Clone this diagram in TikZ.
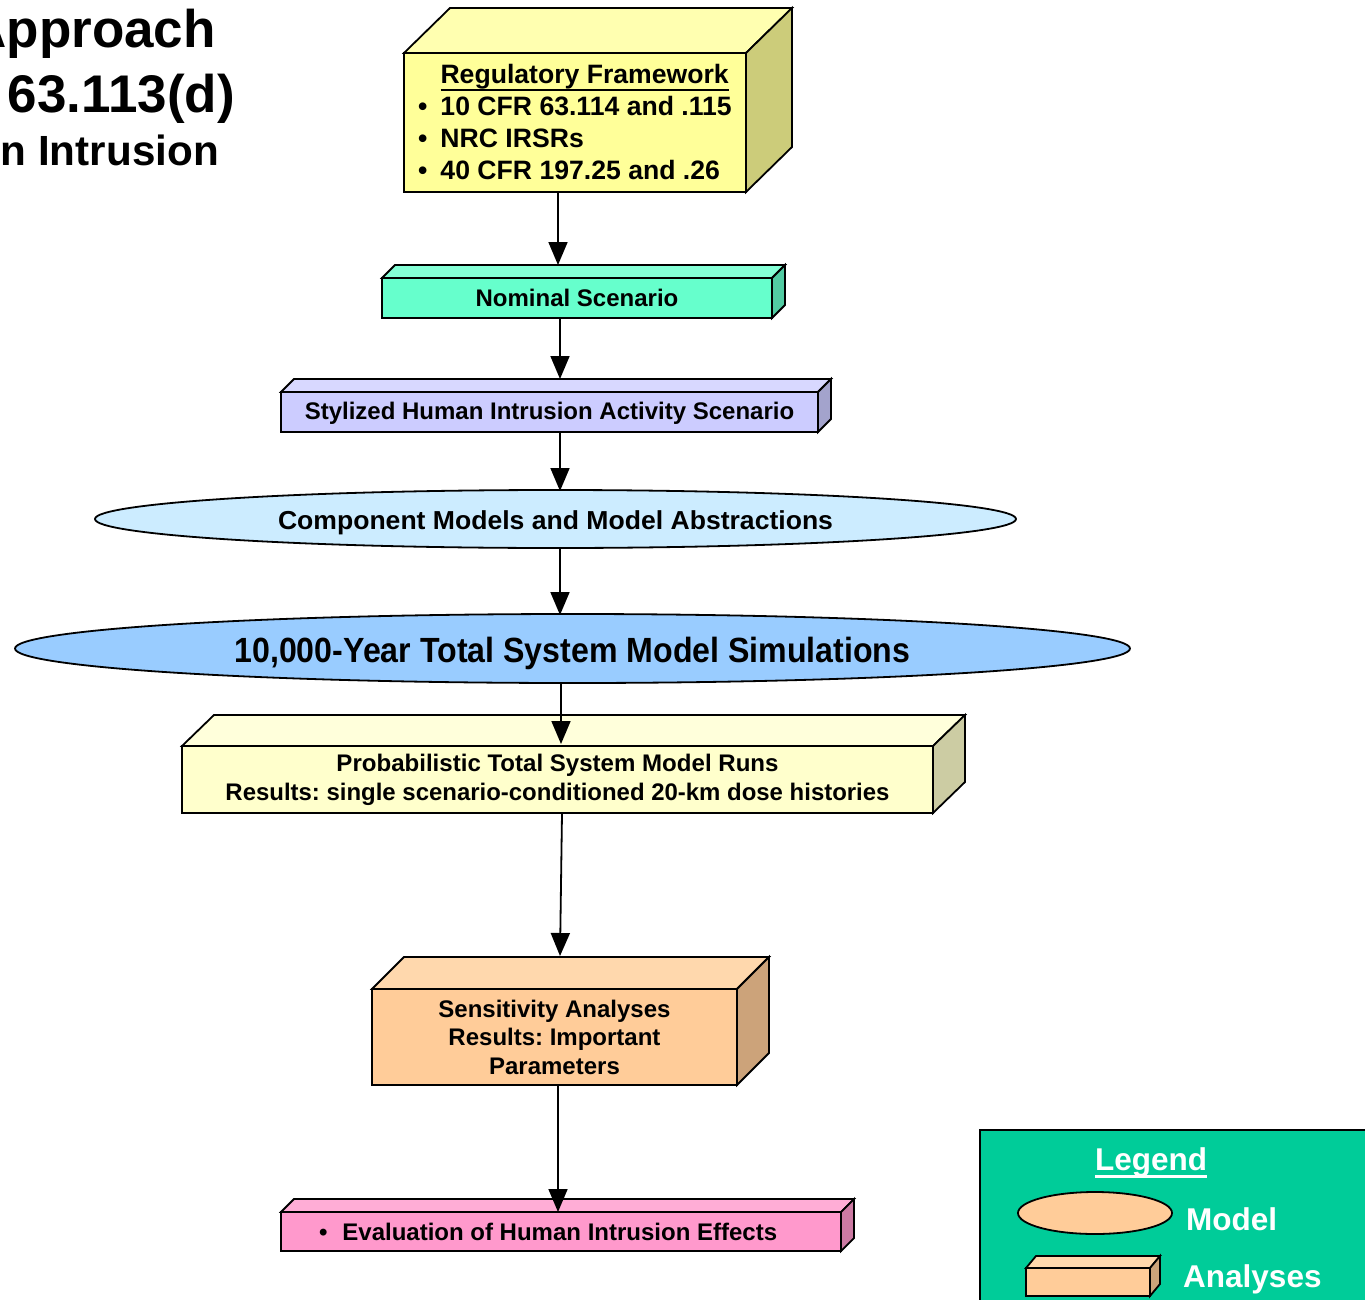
\documentclass[tikz,border=0pt]{standalone}
\usepackage{graphicx}
\usepackage{fontspec}
\setmainfont{Liberation Sans}
\usetikzlibrary{arrows.meta,shapes.geometric}
\frenchspacing

% face colours: front / top / side
\definecolor{regfront}{HTML}{FFFF99}
\definecolor{regtop}{HTML}{FFFFB0}
\definecolor{regside}{HTML}{CCCC7A}
\definecolor{nomfront}{HTML}{66FFCC}
\definecolor{nomtop}{HTML}{85FFD6}
\definecolor{nomside}{HTML}{52CCA3}
\definecolor{styfront}{HTML}{CCCCFF}
\definecolor{stytop}{HTML}{D8D8FF}
\definecolor{styside}{HTML}{A3A3CC}
\definecolor{compfill}{HTML}{CCECFF}
\definecolor{simfill}{HTML}{99CCFF}
\definecolor{probfront}{HTML}{FFFFCC}
\definecolor{probtop}{HTML}{FFFFDB}
\definecolor{probside}{HTML}{CCCCA3}
\definecolor{sensfront}{HTML}{FFCC99}
\definecolor{senstop}{HTML}{FFD8AD}
\definecolor{sensside}{HTML}{CCA37A}
\definecolor{evalfront}{HTML}{FF99CC}
\definecolor{evaltop}{HTML}{FFADD6}
\definecolor{evalside}{HTML}{CC7AA3}
\definecolor{legendgreen}{HTML}{00CC99}

% text with a heavy underline: depth below baseline, rule thickness, text
\newcommand\ulbar[3]{\setbox0=\hbox{#3}\rlap{\rule[-#1]{\wd0}{#2}}\box0}
% lower a text without changing the size it reports
\newcommand\lowerby[2]{\raisebox{-#1}[\height][\depth]{#2}}

% top and right faces of a block whose front face is node #1
\newcommand\extrude[5]{% node, dx, dy, top colour, side colour
  \filldraw[face, fill=#4] (#1.north west) -- ++(#2,-#3)
    -- ([shift={(#2,-#3)}]#1.north east) -- (#1.north east) -- cycle;
  \filldraw[face, fill=#5] (#1.north east) -- ([shift={(#2,-#3)}]#1.north east)
    -- ([shift={(#2,-#3)}]#1.south east) -- (#1.south east) -- cycle;
}

\tikzset{
  face/.style={draw=black, line width=1.8pt, line join=miter},
  front/.style={face, rectangle, inner sep=0pt, outer sep=0pt, align=center},
  oval/.style={draw=black, line width=1.8pt, ellipse, inner sep=0pt, outer sep=0pt},
  flow/.style={line width=1.8pt, -{Triangle[length=23pt,width=19pt]}},
}

\begin{document}
\begin{tikzpicture}[x=1pt, y=-1pt]
\useasboundingbox (0,0) rectangle (1365,1300);

% heading
\node[anchor=base east, inner sep=0, font=\bfseries\fontsize{53}{60}\selectfont] (head1) at (216,48) {Approach};
\node[anchor=base east, inner sep=0, font=\bfseries\fontsize{53}{60}\selectfont] (head2) at (235,113) {63.113(d)};
\node[anchor=base east, inner sep=0, font=\bfseries\fontsize{42.2}{50}\selectfont] (head3) at (219,166) {n Intrusion};

% regulatory framework
\node[front, fill=regfront, minimum width=342, minimum height=139,
      font=\bfseries\fontsize{26.6}{32}\selectfont] (reg) at (575,122.5)
  {\lowerby{3pt}{\begin{tabular}{@{}c@{\hspace{13pt}}l@{}}
     & \ulbar{7pt}{2pt}{Regulatory Framework}\\
   • & 10 CFR 63.114 and .115\\
   • & NRC IRSRs\\
   • & 40 CFR 197.25 and .26
   \end{tabular}}};
\extrude{reg}{46}{45}{regtop}{regside}

% nominal scenario
\node[front, fill=nomfront, minimum width=390, minimum height=40,
      font=\bfseries\fontsize{24}{28}\selectfont] (nom) at (577,298) {Nominal Scenario};
\extrude{nom}{13}{13}{nomtop}{nomside}

% stylized human intrusion scenario
\node[front, fill=styfront, minimum width=537, minimum height=40,
      font=\bfseries\fontsize{24}{28}\selectfont] (sty) at (549.5,412)
  {\lowerby{1pt}{Stylized Human Intrusion Activity Scenario}};
\extrude{sty}{13}{13}{stytop}{styside}

% models
\node[oval, fill=compfill, minimum width=921, minimum height=58,
      font=\bfseries\fontsize{26}{30}\selectfont] (comp) at (555.5,519)
  {\lowerby{4pt}{\resizebox{555pt}{\height}{Component Models and Model Abstractions}}};
\node[oval, fill=simfill, minimum width=1115, minimum height=69,
      font=\bfseries\fontsize{35}{40}\selectfont] (sim) at (572.5,648.5)
  {\lowerby{5pt}{\resizebox{676pt}{\height}{10,000-Year Total System Model Simulations}}};

% probabilistic runs
\node[front, fill=probfront, minimum width=751, minimum height=67,
      font=\bfseries\fontsize{24}{29}\selectfont] (prob) at (557.5,779.5)
  {\resizebox{442pt}{\height}{Probabilistic Total System Model Runs}\\
   \resizebox{664pt}{\height}{Results: single scenario-conditioned 20-km dose histories}};
\extrude{prob}{32}{31}{probtop}{probside}

% sensitivity analyses
\node[front, fill=sensfront, minimum width=365, minimum height=96,
      font=\bfseries\fontsize{24}{28.5}\selectfont] (sens) at (554.5,1037)
  {Sensitivity Analyses\\ Results: Important\\ Parameters};
\extrude{sens}{32}{32}{senstop}{sensside}

% evaluation
\node[front, fill=evalfront, minimum width=560, minimum height=39,
      font=\bfseries\fontsize{24}{28}\selectfont] (eval) at (561,1231.5)
  {\makebox[560pt][l]{\hspace{38pt}•\hspace{15pt}Evaluation of Human Intrusion Effects}};
\extrude{eval}{13}{13}{evaltop}{evalside}

% flow
\draw[flow] ([xshift=-17pt]reg.south) -- ([xshift=-19pt,yshift=13pt]nom.north);
\draw[flow] ([xshift=-17pt]nom.south) -- ([xshift=10.5pt,yshift=13pt]sty.north);
\draw[flow] ([xshift=10.5pt]sty.south) -- ([xshift=4.5pt,yshift=-1pt]comp.north);
\draw[flow] ([xshift=4.5pt]comp.south) -- ([xshift=-12.5pt,yshift=-1pt]sim.north);
\draw[flow] ([xshift=-11.5pt]sim.south) -- ([xshift=3.5pt,yshift=2pt]prob.north);
\draw[flow] ([xshift=4.5pt]prob.south) -- ([xshift=5.5pt,yshift=33pt]sens.north);
\draw[flow] ([xshift=3.5pt]sens.south) -- ([xshift=-3pt]eval.north);

% legend
\node[draw=black, line width=1.8pt, fill=legendgreen, anchor=north west,
      minimum width=420, minimum height=200, inner sep=0] (legend) at (979,1129) {};
\node[anchor=base, inner sep=0, text=white, font=\bfseries\fontsize{31.5}{36}\selectfont]
  (legendtitle) at (1151,1170) {\ulbar{8pt}{3pt}{Legend}};
\node[oval, fill=sensfront, minimum width=154, minimum height=42] (legmodel) at (1095,1213) {};
\node[anchor=base west, inner sep=0, text=white, font=\bfseries\fontsize{31.5}{36}\selectfont]
  (legmodeltxt) at (1186,1230) {Model};
\node[front, fill=sensfront, minimum width=124, minimum height=28] (legbox) at (1088,1282) {};
\extrude{legbox}{10}{12}{senstop}{sensside}
\node[anchor=base west, inner sep=0, text=white, font=\bfseries\fontsize{31.5}{36}\selectfont]
  (legboxtxt) at (1183,1287) {Analyses};
\end{tikzpicture}
\end{document}
